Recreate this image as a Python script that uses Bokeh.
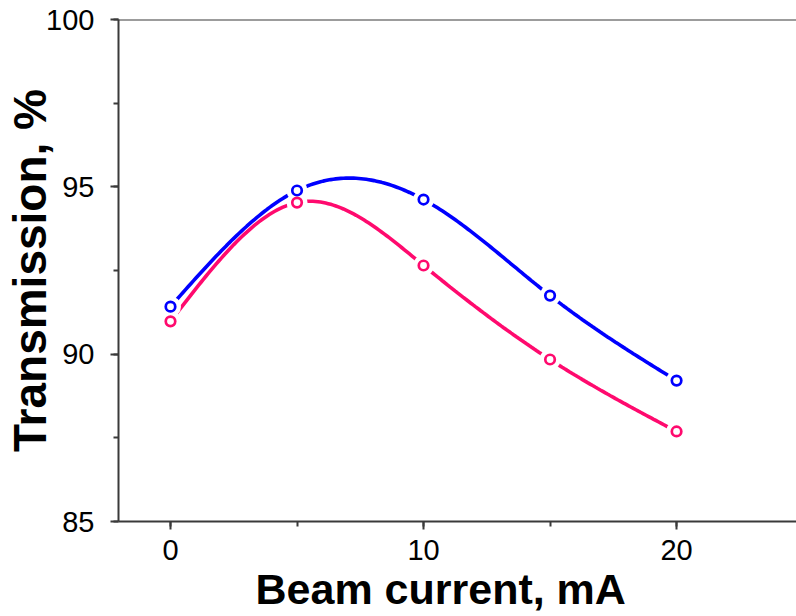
import numpy as np
from bokeh.plotting import figure
from bokeh.models import Range1d, SingleIntervalTicker, Span, ColumnDataSource, Title
from bokeh.embed import file_html
from bokeh.resources import INLINE

# ---- data ----
current_mA = [0, 5, 10, 15, 20]
trans_blue = [91.42, 94.89, 94.62, 91.75, 89.21]
trans_pink = [90.98, 94.53, 92.65, 89.84, 87.69]
x_label = "Beam current, mA"
y_label = "Transmission, %"

BLUE = "#0000FF"
PINK = "#FF0A6E"
AXIS = "#3a3a3a"
FONT = "Liberation Sans"


def natural_spline(xs, ys, n=200):
    xs = np.asarray(xs, float)
    ys = np.asarray(ys, float)
    k = len(xs)
    h = np.diff(xs)
    A = np.zeros((k, k))
    r = np.zeros(k)
    A[0, 0] = A[-1, -1] = 1.0
    for i in range(1, k - 1):
        A[i, i - 1] = h[i - 1]
        A[i, i] = 2 * (h[i - 1] + h[i])
        A[i, i + 1] = h[i]
        r[i] = 3 * ((ys[i + 1] - ys[i]) / h[i] - (ys[i] - ys[i - 1]) / h[i - 1])
    c = np.linalg.solve(A, r)
    xx = np.linspace(xs[0], xs[-1], n)
    yy = np.empty_like(xx)
    for j, x in enumerate(xx):
        i = min(np.searchsorted(xs, x, side="right") - 1, k - 2)
        dx = x - xs[i]
        b = (ys[i + 1] - ys[i]) / h[i] - h[i] * (2 * c[i] + c[i + 1]) / 3
        d = (c[i + 1] - c[i]) / (3 * h[i])
        yy[j] = ys[i] + b * dx + c[i] * dx ** 2 + d * dx ** 3
    return xx, yy


p = figure(width=796, height=616, output_backend="svg", toolbar_location=None,
           x_range=Range1d(-2.055, 24.74), y_range=Range1d(85, 100),
           min_border_left=118, min_border_top=19, min_border_bottom=95,
           min_border_right=0,
           y_axis_label=y_label)

p.grid.visible = False
p.outline_line_color = None
p.background_fill_color = "white"
p.border_fill_color = "white"

for ax in (p.xaxis[0], p.yaxis[0]):
    ax.axis_line_color = AXIS
    ax.axis_line_width = 2
    ax.major_tick_line_color = AXIS
    ax.major_tick_line_width = 2
    ax.minor_tick_line_color = AXIS
    ax.minor_tick_line_width = 2
    ax.major_tick_in = 0
    ax.major_tick_out = 8
    ax.minor_tick_in = 0
    ax.minor_tick_out = 5
    ax.major_label_text_font = FONT
    ax.major_label_text_font_size = "29px"
    ax.major_label_text_color = "black"
    ax.axis_label_text_font = FONT
    ax.axis_label_text_font_style = "bold"
    ax.axis_label_text_color = "black"

p.xaxis[0].major_label_standoff = 10
p.yaxis[0].major_label_standoff = 16
p.yaxis[0].axis_label_standoff = -13
p.yaxis[0].axis_label_text_font_size = "46px"

p.xaxis[0].ticker = SingleIntervalTicker(interval=10, num_minor_ticks=2)
p.yaxis[0].ticker = SingleIntervalTicker(interval=5, num_minor_ticks=2)

p.add_layout(Title(text=x_label, align="left", offset=137, standoff=0,
                   text_font=FONT, text_font_size="43px", text_font_style="bold",
                   text_color="black"), "below")

p.add_layout(Span(location=100, dimension="width", line_color=AXIS, line_width=2))

for ys, col in ((trans_blue, BLUE), (trans_pink, PINK)):
    xx, yy = natural_spline(current_mA, ys)
    p.line(xx, yy, line_color=col, line_width=3.6)

for ys, col in ((trans_blue, BLUE), (trans_pink, PINK)):
    src = ColumnDataSource(dict(x=current_mA, y=ys))
    p.scatter("x", "y", source=src, size=21, fill_color="white", line_color="white", line_width=0)
for ys, col in ((trans_blue, BLUE), (trans_pink, PINK)):
    src = ColumnDataSource(dict(x=current_mA, y=ys))
    p.scatter("x", "y", source=src, size=9.5, fill_color="white", line_color=col, line_width=2.7)

open("out.html", "w").write(file_html(p, INLINE))
